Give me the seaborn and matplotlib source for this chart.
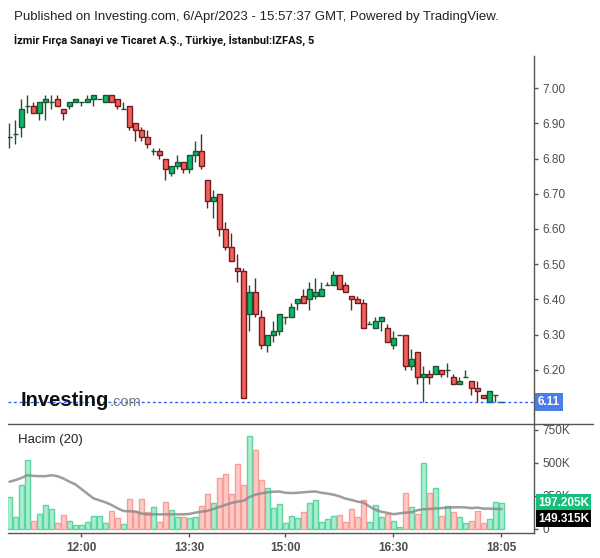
import matplotlib
matplotlib.use("Agg")
import matplotlib.pyplot as plt
import matplotlib.transforms as mtransforms
from matplotlib.lines import Line2D
import numpy as np
import pandas as pd
import seaborn as sns

# ---------------- data ----------------
opens = [6.86, 6.87, 6.89, 6.95, 6.95, 6.93, 6.96, 6.96, 6.97, 6.94,
         6.95, 6.96, 6.96, 6.96, 6.97, 6.97, 6.96, 6.98, 6.97, 6.94,
         6.95, 6.90, 6.88, 6.86, 6.82, 6.82, 6.80, 6.76, 6.78, 6.79,
         6.77, 6.81, 6.82, 6.74, 6.68, 6.70, 6.60, 6.55, 6.49, 6.48,
         6.36, 6.42, 6.35, 6.27, 6.30, 6.31, 6.35, 6.35, 6.39, 6.41,
         6.40, 6.41, 6.41, 6.44, 6.44, 6.47, 6.44, 6.41, 6.40, 6.39,
         6.33, 6.32, 6.34, 6.32, 6.27, 6.30, 6.30, 6.21, 6.25, 6.18,
         6.19, 6.19, 6.20, 6.20, 6.18, 6.16, 6.18, 6.17, 6.15, 6.13,
         6.11, 6.13, 6.11]
highs = [6.90, 6.91, 6.97, 6.98, 6.96, 6.96, 6.98, 6.98, 6.98, 6.94,
         6.96, 6.97, 6.96, 6.98, 6.98, 6.97, 6.98, 6.98, 6.97, 6.96,
         6.95, 6.90, 6.89, 6.88, 6.83, 6.83, 6.80, 6.78, 6.81, 6.79,
         6.81, 6.85, 6.87, 6.74, 6.71, 6.70, 6.62, 6.59, 6.53, 6.49,
         6.44, 6.46, 6.37, 6.30, 6.34, 6.36, 6.35, 6.39, 6.40, 6.43,
         6.45, 6.46, 6.45, 6.45, 6.48, 6.47, 6.45, 6.41, 6.41, 6.40,
         6.34, 6.35, 6.35, 6.33, 6.31, 6.30, 6.30, 6.26, 6.25, 6.21,
         6.20, 6.21, 6.20, 6.22, 6.19, 6.18, 6.20, 6.17, 6.17, 6.13,
         6.14, 6.13, 6.11]
lows = [6.83, 6.84, 6.86, 6.93, 6.93, 6.91, 6.91, 6.94, 6.95, 6.91,
        6.94, 6.96, 6.95, 6.96, 6.95, 6.97, 6.96, 6.96, 6.94, 6.94,
        6.88, 6.85, 6.85, 6.83, 6.81, 6.80, 6.74, 6.75, 6.77, 6.76,
        6.76, 6.79, 6.77, 6.66, 6.63, 6.58, 6.54, 6.51, 6.45, 6.12,
        6.31, 6.35, 6.26, 6.25, 6.28, 6.30, 6.33, 6.35, 6.37, 6.39,
        6.37, 6.40, 6.41, 6.44, 6.44, 6.43, 6.42, 6.37, 6.39, 6.32,
        6.33, 6.32, 6.31, 6.28, 6.26, 6.30, 6.20, 6.20, 6.16, 6.11,
        6.16, 6.19, 6.18, 6.18, 6.16, 6.16, 6.18, 6.13, 6.11, 6.12,
        6.11, 6.11, 6.11]
closes = [6.86, 6.87, 6.94, 6.95, 6.93, 6.96, 6.97, 6.96, 6.95, 6.93,
          6.96, 6.97, 6.96, 6.97, 6.98, 6.97, 6.98, 6.96, 6.95, 6.94,
          6.89, 6.88, 6.86, 6.84, 6.82, 6.81, 6.77, 6.78, 6.79, 6.77,
          6.81, 6.82, 6.78, 6.68, 6.69, 6.60, 6.55, 6.51, 6.48, 6.12,
          6.42, 6.36, 6.27, 6.30, 6.31, 6.36, 6.35, 6.38, 6.40, 6.39,
          6.43, 6.42, 6.43, 6.44, 6.47, 6.43, 6.42, 6.40, 6.39, 6.32,
          6.33, 6.34, 6.35, 6.28, 6.29, 6.30, 6.21, 6.23, 6.18, 6.19,
          6.18, 6.21, 6.19, 6.20, 6.16, 6.17, 6.18, 6.15, 6.14, 6.12,
          6.14, 6.13, 6.11]
volumes_k = [240, 89, 331, 520, 58, 109, 180, 149, 43, 104,
             58, 28, 28, 48, 96, 96, 43, 134, 81, 36,
             225, 134, 225, 124, 164, 51, 202, 142, 89, 89,
             79, 89, 172, 263, 193, 384, 412, 263, 488, 331,
             700, 596, 369, 306, 157, 185, 43, 96, 79, 124,
             193, 215, 51, 71, 96, 104, 51, 147, 89, 215,
             51, 177, 89, 109, 58, 15, 268, 162, 109, 495,
             268, 306, 96, 170, 124, 89, 43, 58, 134, 43,
             71, 200, 197.205]
vol_ma_k = [356, 368, 385, 405, 400, 398, 398, 405, 398, 380,
            356, 335, 300, 265, 230, 215, 200, 180, 155, 134,
            132, 130, 115, 109, 109, 109, 109, 109, 109, 109,
            112, 122, 130, 135, 150, 165, 180, 195, 205, 212,
            240, 258, 268, 276, 280, 282, 272, 270, 272, 276,
            280, 282, 272, 266, 258, 245, 228, 218, 205, 198,
            168, 143, 128, 120, 110, 116, 122, 124, 140, 148,
            150, 153, 156, 160, 162, 163, 161, 156, 160, 152,
            152, 150, 149.315]
time_tick_pos = [12, 30, 46, 64, 82]
time_tick_labels = ["12:00", "13:30", "15:00", "16:30", "18:05"]
price_ticks = [6.20, 6.30, 6.40, 6.50, 6.60, 6.70, 6.80, 6.90, 7.00]
vol_ticks = [0, 250, 500, 750]
vol_tick_labels = ["0", "250K", "500K", "750K"]

title1 = "Published on Investing.com, 6/Apr/2023 - 15:57:37 GMT, Powered by TradingView."
title2 = "İzmir Fırça Sanayi ve Ticaret A.Ş., Türkiye, İstanbul:IZFAS, 5"

# ---------------- style ----------------
sns.set_theme(style="white")
plt.rcParams["font.family"] = ["Liberation Sans", "DejaVu Sans"]

GREEN_BODY, GREEN_EDGE = "#08b96c", "#1d5533"
RED_BODY, RED_EDGE = "#f5605a", "#6f1d1d"
VG_FILL, VG_EDGE = "#a9eed0", "#5dd5a0"
VR_FILL, VR_EDGE = "#ffc9c5", "#f59f99"
AXIS_C = "#555555"
TXT_C = "#4d4d4d"

n = len(opens)
df = pd.DataFrame({"idx": np.arange(n), "open": opens, "high": highs,
                   "low": lows, "close": closes, "volume": volumes_k,
                   "ma": vol_ma_k})
df["dir"] = np.where(df["close"] >= df["open"], "up", "down")

W, H = 600, 558
fig = plt.figure(figsize=(W / 100, H / 100), dpi=100)


def rect(x0, y0, x1, y1):
    return [x0 / W, 1 - y1 / H, (x1 - x0) / W, (y1 - y0) / H]


axp = fig.add_axes(rect(8, 56, 534, 423.5))
axv = fig.add_axes(rect(8, 423.5, 534, 533.3))

# ---------------- candles ----------------
up = df["dir"] == "up"
edge_cols = np.where(up, GREEN_EDGE, RED_EDGE)
face_cols = np.where(up, GREEN_BODY, RED_BODY)
axp.vlines(df["idx"], df["low"], df["high"], colors=edge_cols, lw=1.0, zorder=1)
body_lo = df[["open", "close"]].min(axis=1)
body_h = (df["close"] - df["open"]).abs()
axp.bar(df["idx"], body_h, bottom=body_lo, width=0.78, color=face_cols,
        edgecolor=edge_cols, linewidth=1.0, zorder=2)

axp.axhline(closes[-1], color="#2962ff", lw=1.0, ls=(0, (2, 2)), zorder=3)

# ---------------- volume ----------------
sns.barplot(data=df, x="idx", y="volume", hue="dir", native_scale=True,
            dodge=False, palette={"up": VG_FILL, "down": VR_FILL},
            width=0.86, legend=False, errorbar=None, ax=axv, linewidth=1.0,
            edgecolor=VG_EDGE, saturation=1)
for p in axv.patches:
    xc = p.get_x() + p.get_width() / 2
    k = int(round(xc))
    if 0 <= k < n:
        p.set_edgecolor(VG_EDGE if df["dir"].iloc[k] == "up" else VR_EDGE)
sns.lineplot(x=df["idx"], y=df["ma"], ax=axv, color="#8c8c8c", lw=1.8,
             alpha=0.85, zorder=5)
axv.set_xlabel("")
axv.set_ylabel("")

# ---------------- axes ----------------
xmin, xmax = -0.25, 87.42
for ax in (axp, axv):
    ax.set_xlim(xmin, xmax)
    ax.set_facecolor("white")
    for s in ("top", "left"):
        ax.spines[s].set_visible(False)
    ax.spines["right"].set_color(AXIS_C)
    ax.spines["right"].set_linewidth(1.0)
    ax.yaxis.tick_right()
    ax.tick_params(axis="y", which="both", right=True, left=False, length=3,
                   width=1, color=AXIS_C, labelsize=8.5, labelcolor=TXT_C, pad=3)

axp.spines["bottom"].set_visible(False)
axp.set_ylim(6.0482, 7.0908)
axp.set_yticks(price_ticks)
axp.set_yticklabels([f"{v:.2f}" for v in price_ticks])
axp.set_xticks([])

axv.spines["bottom"].set_color(AXIS_C)
axv.spines["bottom"].set_linewidth(1.0)
axv.set_ylim(-34.8, 797)
axv.set_yticks(vol_ticks)
axv.set_yticklabels(vol_tick_labels)
axv.set_xticks(time_tick_pos)
axv.set_xticklabels(time_tick_labels, fontweight="bold")
axv.tick_params(axis="x", bottom=True, length=3, width=1, color=AXIS_C,
                labelsize=8.5, labelcolor=TXT_C, pad=3)

# separator line between panes (extends to the right edge)
fig.add_artist(Line2D([8 / W, 593 / W], [1 - 423.5 / H] * 2, color=AXIS_C, lw=1.0))

# ---------------- value labels on the right axis ----------------
tp = mtransforms.blended_transform_factory(axp.transAxes, axp.transData)
tp = mtransforms.offset_copy(tp, fig=fig, x=4, y=0, units="dots")
axp.text(1.0, closes[-1], f"{closes[-1]:.2f}", transform=tp, ha="left", va="center",
         color="white", fontsize=8.5, fontweight="bold", zorder=10, clip_on=False,
         bbox=dict(boxstyle="square,pad=0.25", fc="#4a7de6", ec="none"))

tv = mtransforms.blended_transform_factory(axv.transAxes, axv.transData)
tv1 = mtransforms.offset_copy(tv, fig=fig, x=4, y=0, units="dots")
axv.text(1.0, volumes_k[-1], f"{volumes_k[-1]:.3f}K", transform=tv1, ha="left",
         va="center", color="white", fontsize=8.5, fontweight="bold", zorder=10,
         clip_on=False, bbox=dict(boxstyle="square,pad=0.2", fc="#12c07c", ec="none"))
tv2 = mtransforms.offset_copy(tv, fig=fig, x=4, y=-16, units="dots")
axv.text(1.0, volumes_k[-1], f"{vol_ma_k[-1]:.3f}K", transform=tv2, ha="left",
         va="center", color="white", fontsize=8.5, fontweight="bold", zorder=10,
         clip_on=False, bbox=dict(boxstyle="square,pad=0.2", fc="black", ec="none"))

# ---------------- texts ----------------
fig.text(14 / W, 1 - 17 / H, title1, fontsize=9.5, color="#222222", va="center", ha="left")
t2 = fig.text(14 / W, 1 - 40 / H, title2, fontsize=9.5,
              family=["Roboto", "Liberation Sans", "DejaVu Sans"],
              color="#111111", va="center", ha="left", fontweight="bold")
# fit the second title line to the width it occupies in the reference (~303 px)
renderer = fig.canvas.get_renderer()
w0 = t2.get_window_extent(renderer=renderer).width
if w0 > 0:
    t2.set_fontsize(max(7.0, min(9.8, 9.5 * 303.0 / w0)))

fig.text(18 / W, 1 - 440 / H, "Hacim (20)", fontsize=9.5, color="#222222",
         va="center", ha="left")
fig.text(20.5 / W, 1 - 406.5 / H, "Investing", fontsize=14.5, fontweight="bold",
         color="#111111", va="baseline", ha="left", zorder=20)
fig.text(110 / W, 1 - 406.5 / H, ".com", fontsize=10.5, color="#777777",
         va="baseline", ha="left", zorder=20)

fig.savefig("out.png", dpi=100, facecolor="white")
